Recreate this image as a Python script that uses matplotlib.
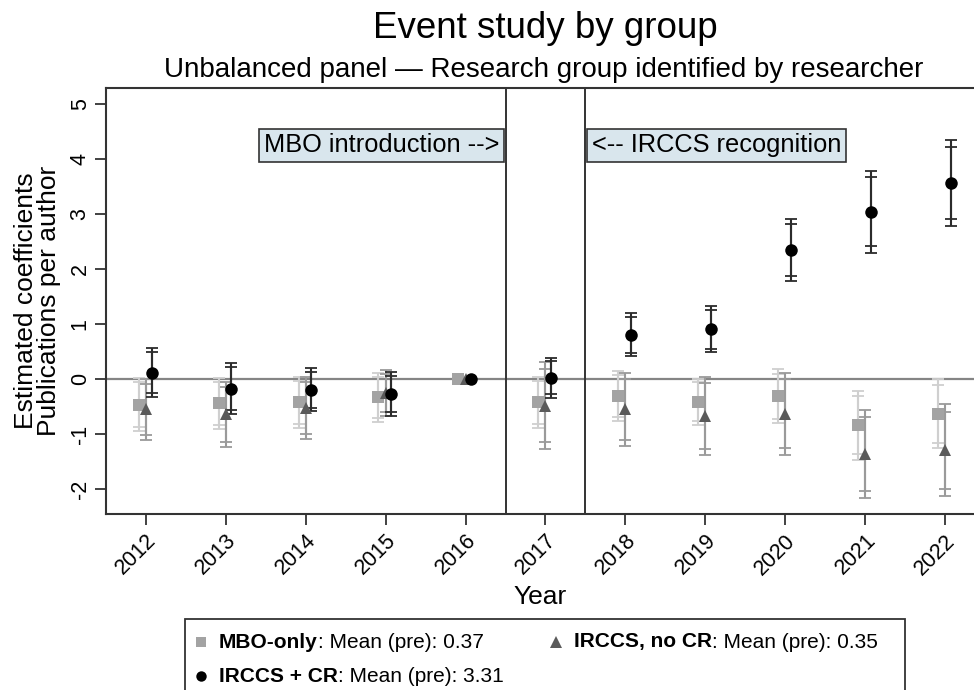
import matplotlib
matplotlib.use('Agg')
import matplotlib.pyplot as plt
from matplotlib.lines import Line2D
from matplotlib.patches import Rectangle
from matplotlib.offsetbox import AnchoredOffsetbox, DrawingArea, HPacker, TextArea

years = [2012, 2013, 2014, 2015, 2016, 2017, 2018, 2019, 2020, 2021, 2022]

# MBO-only
mbo_coef = [-0.46, -0.44, -0.42, -0.33, 0.0, -0.42, -0.30, -0.41, -0.31, -0.84, -0.63]
mbo_se = [0.245, 0.235, 0.235, 0.23, 0.0, 0.235, 0.23, 0.215, 0.25, 0.32, 0.32]

# IRCCS, no CR
nocr_coef = [-0.55, -0.64, -0.52, -0.25, 0.0, -0.48, -0.55, -0.67, -0.63, -1.36, -1.29]
nocr_se = [0.28, 0.30, 0.285, 0.21, 0.0, 0.40, 0.34, 0.36, 0.38, 0.41, 0.425]

# IRCCS + CR
cr_coef = [0.12, -0.17, -0.19, -0.27, 0.0, 0.03, 0.81, 0.91, 2.35, 3.04, 3.56]
cr_se = [0.23, 0.235, 0.20, 0.20, 0.0, 0.185, 0.20, 0.215, 0.29, 0.38, 0.40]

pre_means = {'MBO-only': 0.37, 'IRCCS, no CR': 0.35, 'IRCCS + CR': 3.31}

y_ticks = [-2, -1, 0, 1, 2, 3, 4, 5]

SANS = ['Liberation Sans', 'DejaVu Sans']
plt.rcParams['font.family'] = SANS

groups = [
    # label, coef, se, x offset, marker, marker colour, bar colour, size
    ('MBO-only', mbo_coef, mbo_se, -0.09, 's', '#a3a3a3', '#cfcfcf', 8.5),
    ('IRCCS, no CR', nocr_coef, nocr_se, 0.0, '^', '#5a5a5a', '#9a9a9a', 9),
    ('IRCCS + CR', cr_coef, cr_se, 0.07, 'o', '#000000', '#2b2b2b', 9),
]

fig = plt.figure(figsize=(9.74, 6.9), dpi=100)
W, H = 974, 690
ax = fig.add_axes([106 / W, 1 - 513.5 / H, 1 - 106 / W, (513.5 - 87.5) / H])

ax.axhline(0, color='#858585', lw=1.6, zorder=1)
ax.axvline(2016.5, color='#333333', lw=1.4, zorder=1)
ax.axvline(2017.5, color='#333333', lw=1.4, zorder=1)

for label, coef, se, off, mk, mcol, bcol, ms in groups:
    xs = [y + off for y in years]
    keep = [i for i, s in enumerate(se) if s > 0]
    xk = [xs[i] for i in keep]
    ck = [coef[i] for i in keep]
    # 95% and 90% intervals
    for z in (1.96, 1.645):
        ax.errorbar(xk, ck, yerr=[z * se[i] for i in keep], fmt='none',
                    ecolor=bcol, elinewidth=1.5, capsize=4.2, capthick=1.3, zorder=2)
    ax.plot(xs, coef, linestyle='none', marker=mk, color=mcol, markersize=ms,
            markeredgewidth=0, zorder=3)

ax.set_xlim(2011.5, 2011.5 + (W - 106) / 79.9)
ax.set_ylim(-2.44, 5.30)
ax.set_xticks(years)
ax.set_xticklabels([str(y) for y in years], rotation=45, ha='right',
                   rotation_mode='anchor', fontsize=15.5)
ax.set_yticks(y_ticks)
ax.set_yticklabels([str(v) for v in y_ticks], rotation=90, va='center', fontsize=15.5)
ax.tick_params(axis='both', direction='out', length=8, width=1.3, color='#333333')
ax.tick_params(axis='x', pad=4)
ax.tick_params(axis='y', pad=3)
for side in ('left', 'bottom', 'top'):
    ax.spines[side].set_color('#333333')
    ax.spines[side].set_linewidth(1.5)
ax.spines['right'].set_visible(False)

ax.set_xlabel('Year', fontsize=19, labelpad=4)
ax.set_ylabel('Estimated coefficients\nPublications per author', fontsize=19,
              labelpad=6, linespacing=0.95)

box = dict(boxstyle='square,pad=0.18', fc='#d9e6ed', ec='#333333', lw=1.2)
ax.text(2016.5 - 0.08, 4.25, 'MBO introduction -->', ha='right', va='center',
        fontsize=18.3, bbox=box, zorder=4)
ax.text(2017.5 + 0.08, 4.25, '<-- IRCCS recognition', ha='left', va='center',
        fontsize=18.3, bbox=box, zorder=4)

fig.text(545 / W, 1 - 28 / H, 'Event study by group', ha='center', va='center',
         fontsize=26.5)
fig.text(544 / W, 1 - 70 / H, 'Unbalanced panel \u2014 Research group identified by researcher',
         ha='center', va='center', fontsize=20)

# legend below the plot
fig.patches.append(Rectangle((185 / W, -0.05), (905 - 185) / W, 0.05 + 1 - 619 / H,
                             transform=fig.transFigure, fill=False,
                             ec='#333333', lw=1.3))


def legend_entry(marker, color, size, name, value, x, y):
    da = DrawingArea(10, 10, 0, 0)
    da.add_artist(Line2D([5], [5], marker=marker, color=color, markersize=size,
                         linestyle='none', markeredgewidth=0))
    bold = TextArea(name, textprops=dict(fontweight='bold', fontsize=15))
    rest = TextArea(': Mean (pre): %.2f' % value, textprops=dict(fontsize=15))
    words = HPacker(children=[bold, rest], align='baseline', pad=0, sep=0)
    row = HPacker(children=[da, words], align='center', pad=0, sep=8)
    fig.add_artist(AnchoredOffsetbox(loc='center left', child=row, pad=0, borderpad=0,
                                     frameon=False, bbox_to_anchor=(x / W, 1 - y / H),
                                     bbox_transform=fig.transFigure))


legend_entry('s', '#a3a3a3', 7.5, 'MBO-only', pre_means['MBO-only'], 194, 642)
legend_entry('^', '#5a5a5a', 8, 'IRCCS, no CR', pre_means['IRCCS, no CR'], 549, 642)
legend_entry('o', '#000000', 7.5, 'IRCCS + CR', pre_means['IRCCS + CR'], 194, 676)

fig.savefig('out.png', dpi=100)
